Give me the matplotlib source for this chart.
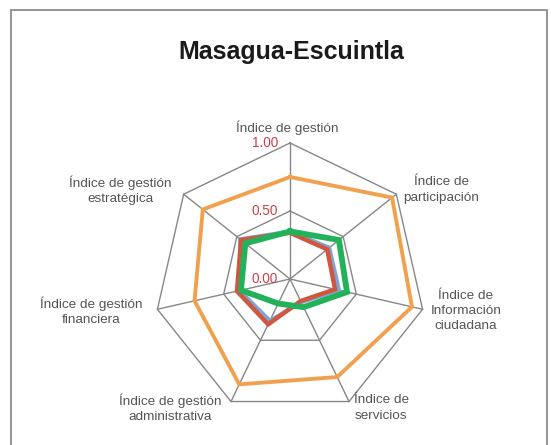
import numpy as np
import matplotlib
matplotlib.use("Agg")
import matplotlib.pyplot as plt
from matplotlib.patches import Rectangle

# Datos del radar (sentido horario desde arriba)
categorias = ["Índice de gestión", "Índice de\nparticipación", "Índice de\nInformación\nciudadana",
              "Índice de\nservicios", "Índice de gestión\nadministrativa",
              "Índice de gestión\nfinanciera", "Índice de gestión\nestratégica"]
serie_naranja = [0.75, 0.96, 0.92, 0.80, 0.86, 0.72, 0.82]
serie_azul = [0.35, 0.37, 0.37, 0.19, 0.34, 0.38, 0.47]
serie_roja = [0.34, 0.35, 0.34, 0.18, 0.37, 0.40, 0.46]
serie_verde = [0.35, 0.46, 0.43, 0.23, 0.20, 0.37, 0.42]
ticks = [0.0, 0.5, 1.0]
tick_labels = ["0.00", "0.50", "1.00"]
titulo = "Masagua-Escuintla"

W, H = 551, 445
CX, CY, R = 290, 279, 136  # centro y radio en pixeles

plt.rcParams['font.family'] = ['Liberation Sans', 'DejaVu Sans']

fig = plt.figure(figsize=(W / 100, H / 100), dpi=100)
ax = fig.add_axes([0, 0, 1, 1])
ax.set_xlim(-CX / R, (W - CX) / R)
ax.set_ylim((CY - H) / R, CY / R)
ax.axis('off')


def px(x, y):
    # pixel de la imagen -> coordenadas de datos
    return (x - CX) / R, (CY - y) / R


n = len(categorias)
ang = np.pi / 2 - 2 * np.pi * np.arange(n) / n


def xy(vals):
    v = np.asarray(vals + vals[:1], dtype=float)
    a = np.concatenate([ang, ang[:1]])
    return v * np.cos(a), v * np.sin(a)


# rejilla
gris = '#878787'
for t in ticks[1:]:
    gx, gy = xy([t] * n)
    ax.plot(gx, gy, color=gris, lw=1.0, zorder=1)
for a in ang:
    ax.plot([0, np.cos(a)], [0, np.sin(a)], color=gris, lw=1.0, zorder=1)

# series
for vals, col, lw in [(serie_naranja, '#F1A14E', 2.8), (serie_azul, '#80A6D7', 2.8),
                      (serie_roja, '#D0573F', 3.2), (serie_verde, '#22B35A', 4.2)]:
    sx, sy = xy(vals)
    ax.plot(sx, sy, color=col, lw=lw, solid_joinstyle='miter', zorder=3)

# etiquetas del eje radial
for t, lab in zip(ticks, tick_labels):
    ax.text(-0.09, t, lab, color='#C9424A', fontsize=9.8, ha='right', va='center', zorder=4)

# etiquetas de categorias
pos = [(287, 128), (441, 190), (466, 311), (381, 408), (170, 408), (91, 311), (120, 190)]
for lab, (x, y) in zip(categorias, pos):
    ax.text(*px(x, y), lab, color='#555555', fontsize=9.7, ha='center', va='center',
            linespacing=1.35)

ax.text(*px(291, 52), titulo, fontsize=18, fontweight='bold', color='#1a1a1a',
        ha='center', va='center')

# marco
fig.patches.append(Rectangle((11 / W, -0.05), (547 - 11) / W, 1.05 - 10 / H,
                             transform=fig.transFigure, fill=False, ec='#8c8c8c', lw=1.3))

fig.savefig('out.png', dpi=100)
